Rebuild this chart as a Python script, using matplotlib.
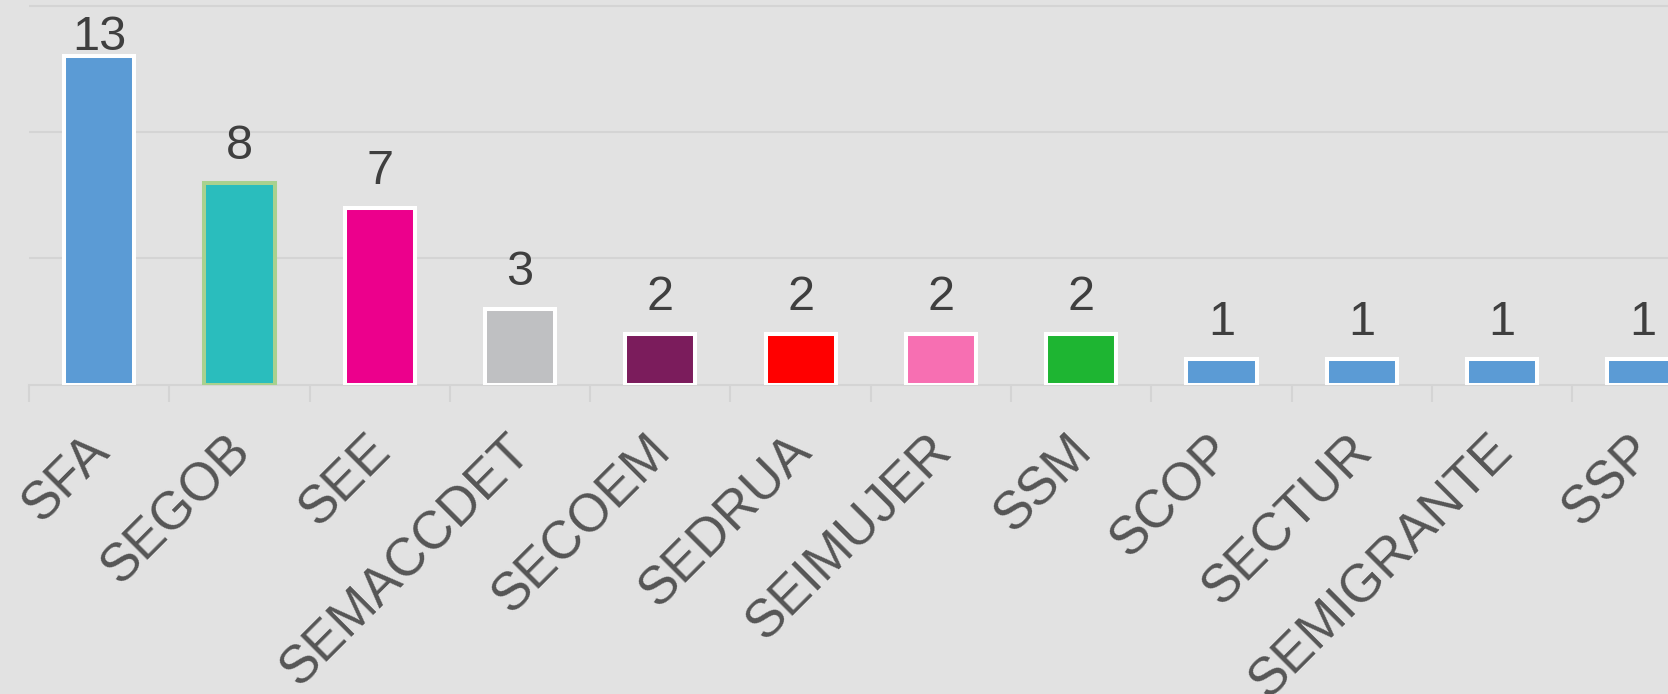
import matplotlib.pyplot as plt
import matplotlib.transforms as mtransforms

plt.rcParams['font.family'] = ['Liberation Sans', 'DejaVu Sans']

categories = ['SFA', 'SEGOB', 'SEE', 'SEMACCDET', 'SECOEM', 'SEDRUA',
              'SEIMUJER', 'SSM', 'SCOP', 'SECTUR', 'SEMIGRANTE', 'SSP']
values = [13, 8, 7, 3, 2, 2, 2, 2, 1, 1, 1, 1]
bar_colors = ['#5b9bd5', '#2abdbd', '#ec008c', '#bfc0c2', '#7b1c5c', '#ff0000',
              '#f76fb2', '#1eb532', '#5b9bd5', '#5b9bd5', '#5b9bd5', '#5b9bd5']
edge_colors = ['white', '#a9d18e'] + ['white'] * 10

bg = '#e2e2e2'
line_col = '#d4d4d4'

W, H = 1668, 694
fig = plt.figure(figsize=(W / 100, H / 100), dpi=100, facecolor=bg)

# axes laid out in pixels: baseline at y=384.5, 140.3 px per category
px_unit = 25.24
ytop = 15.3
base_y = 384.5
ax = fig.add_axes([29 / W, (H - base_y) / H, 12 * 140.3 / W, ytop * px_unit / H])
ax.set_facecolor(bg)

x = list(range(len(categories)))
ax.bar(x, values, width=0.5, color=bar_colors, edgecolor=edge_colors,
       linewidth=2.9, zorder=3)

ax.set_xlim(-0.5, len(categories) - 0.5)
ax.set_ylim(0, ytop)

# grid
ax.set_yticks([5, 10, 15])
ax.yaxis.grid(True, color=line_col, linewidth=1.5, zorder=0)
ax.tick_params(axis='y', left=False, labelleft=False)

for s in ['left', 'right', 'top']:
    ax.spines[s].set_visible(False)
ax.spines['bottom'].set_color(line_col)
ax.spines['bottom'].set_linewidth(1.5)
ax.spines['bottom'].set_zorder(2)

# boundary ticks
ax.set_xticks([i - 0.5 for i in range(len(categories) + 1)], minor=True)
ax.tick_params(axis='x', which='minor', length=12, width=1.5, color=line_col)

ax.set_xticks(x)
ax.set_xticklabels(categories, rotation=45, ha='right', va='baseline',
                   rotation_mode='anchor', fontsize=38, color='#555555')
ax.tick_params(axis='x', which='major', length=0, pad=49.5)
offset = mtransforms.ScaledTranslation(0.13, 0, fig.dpi_scale_trans)
for lab in ax.get_xticklabels():
    lab.set_transform(lab.get_transform() + offset)

# value labels above bars, kept inside the plot area
label_gap = 24 / px_unit
label_max = ytop - 2.05
for xi, v in zip(x, values):
    ax.text(xi, min(v + label_gap, label_max), str(v), ha='center', va='baseline',
            fontsize=35, color='#3f3f3f', zorder=4)

fig.savefig('out.png', dpi=100, facecolor=bg)
